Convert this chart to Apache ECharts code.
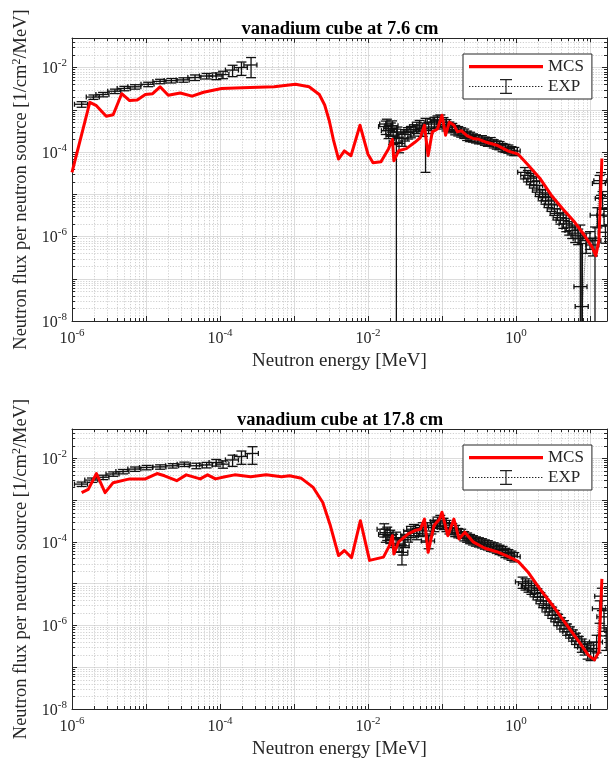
<!DOCTYPE html>
<html>
<head>
<meta charset="utf-8">
<title>vanadium cube - neutron spectra</title>
<script src="https://cdn.jsdelivr.net/npm/echarts@6/dist/echarts.min.js"></script>
<style>
  * { margin: 0; padding: 0; }
  body { background: #fff; }
  #chart { width: 613px; height: 760px; }
</style>
</head>
<body>
<div id="chart"></div>
<script>
// axis ranges (MeV / 1/cm2/MeV)
const xRange = [1e-6, 17];
const yRange = [1e-8, 0.05];

// ---------- vanadium cube at 7.6 cm ----------
const mcsE76 = [1.0e-6, 1.74e-6, 2.14e-6, 2.9e-6, 3.6e-6, 4.7e-6, 6.0e-6, 7.6e-6, 9.8e-6, 1.23e-5, 1.55e-5, 2.0e-5, 2.9e-5, 4.2e-5, 6.0e-5, 1.05e-4, 2.0e-4, 5.4e-4, 1.05e-3, 1.6e-3, 2.2e-3, 2.6e-3, 3.0e-3, 3.4e-3, 4.0e-3, 4.8e-3, 5.9e-3, 7.8e-3, 1.0e-2, 1.17e-2, 1.5e-2, 1.9e-2, 2.14e-2, 2.24e-2, 2.6e-2, 3.3e-2, 4.3e-2, 5.1e-2, 5.8e-2, 6.5e-2, 7.4e-2, 8.7e-2, 0.100, 0.112, 0.126, 0.145, 0.162, 0.182, 0.219, 0.263, 0.316, 0.40, 0.55, 0.79, 1.07, 1.45, 2.1, 3.0, 4.3, 6.2, 8.3, 10.7, 12.0, 13.2, 14.5];
const mcsF76 = [3.3e-5, 1.5e-3, 1.25e-3, 7.0e-4, 7.6e-4, 2.4e-3, 1.65e-3, 1.7e-3, 2.3e-3, 2.4e-3, 3.5e-3, 2.2e-3, 2.5e-3, 2.1e-3, 2.6e-3, 3.2e-3, 3.3e-3, 3.5e-3, 4.0e-3, 3.5e-3, 2.3e-3, 1.3e-3, 5.5e-4, 2.0e-4, 6.8e-5, 1.06e-4, 8.2e-5, 4.3e-4, 8.9e-5, 5.6e-5, 5.9e-5, 1.2e-4, 2.0e-4, 6.2e-5, 1.07e-4, 1.2e-4, 1.7e-4, 2.2e-4, 4.3e-4, 8.2e-5, 3.0e-4, 3.5e-4, 7.4e-4, 2.5e-4, 5.1e-4, 4.3e-4, 3.0e-4, 3.2e-4, 2.4e-4, 2.1e-4, 2.0e-4, 1.7e-4, 1.45e-4, 1.05e-4, 8.9e-5, 5.0e-5, 2.4e-5, 9.5e-6, 4.5e-6, 2.2e-6, 1.1e-6, 5.6e-7, 3.5e-7, 8.0e-7, 7.0e-5];

const expLowE76 = [1.35e-6, 1.95e-6, 2.63e-6, 3.8e-6, 5.1e-6, 7.1e-6, 1.07e-5, 1.55e-5, 2.2e-5, 3.2e-5, 4.6e-5, 6.6e-5, 8.9e-5, 1.1e-4, 1.48e-4, 1.95e-4, 2.63e-4];
const expLowF76 = [1.35e-3, 2.0e-3, 2.3e-3, 2.75e-3, 3.2e-3, 3.5e-3, 4.0e-3, 4.7e-3, 4.9e-3, 5.1e-3, 5.8e-3, 6.3e-3, 6.3e-3, 6.8e-3, 8.7e-3, 1.0e-2, 1.15e-2];
const expLowErr76 = [0.15, 0.12, 0.12, 0.12, 0.12, 0.12, 0.12, 0.12, 0.12, 0.12, 0.15, 0.15, 0.18, 0.2, 0.3, 0.35, 0.5];

const expHighE76 = [0.0174, 0.018, 0.019, 0.0204, 0.0212, 0.0219, 0.0242, 0.025, 0.0263, 0.0288, 0.0316, 0.0347, 0.038, 0.0417, 0.0457, 0.050, 0.055, 0.060, 0.066, 0.072, 0.079, 0.087, 0.095, 0.105, 0.115, 0.126, 0.138, 0.151, 0.166, 0.182, 0.20, 0.219, 0.24, 0.263, 0.288, 0.316, 0.347, 0.38, 0.417, 0.457, 0.50, 0.55, 0.60, 0.66, 0.72, 0.79, 0.87, 0.95];
const expHighF76 = [4.0e-4, 4.6e-4, 3.2e-4, 3.6e-4, 4.2e-4, 2.5e-4, 1.7e-4, 3.0e-4, 1.6e-4, 2.1e-4, 2.6e-4, 2.9e-4, 3.1e-4, 3.4e-4, 3.9e-4, 4.3e-4, 3.6e-4, 3.3e-4, 3.9e-4, 4.6e-4, 5.1e-4, 5.5e-4, 5.8e-4, 5.0e-4, 4.5e-4, 4.1e-4, 3.8e-4, 3.4e-4, 3.2e-4, 3.0e-4, 2.8e-4, 2.5e-4, 2.35e-4, 2.2e-4, 2.1e-4, 2.0e-4, 2.0e-4, 1.85e-4, 1.75e-4, 1.8e-4, 1.6e-4, 1.5e-4, 1.45e-4, 1.3e-4, 1.25e-4, 1.2e-4, 1.1e-4, 1.05e-4];
const expHighErr76 = [0.35, 0.3, 0.35, 0.35, 0.3, 0.4, 1.05, 0.3, 0.4, 0.35, 0.3, 0.3, 0.3, 0.3, 0.3, 0.3, 0.35, 0.9, 0.3, 0.3, 0.3, 0.3, 0.3, 0.3, 0.3, 0.25, 0.25, 0.25, 0.25, 0.25, 0.25, 0.25, 0.25, 0.22, 0.22, 0.22, 0.22, 0.22, 0.22, 0.22, 0.22, 0.22, 0.22, 0.22, 0.22, 0.22, 0.22, 0.22];

const expTailE76 = [1.32, 1.45, 1.58, 1.74, 1.91, 2.09, 2.29, 2.51, 2.75, 3.02, 3.31, 3.63, 3.98, 4.37, 4.79, 5.25, 5.75, 6.31, 6.92, 7.41, 7.6, 7.9, 8.9, 10.0, 11.0, 11.7, 12.6, 13.5, 14.1, 14.8, 15.5, 16.2];
const expTailF76 = [3.3e-5, 2.8e-5, 2.4e-5, 2.0e-5, 1.6e-5, 1.26e-5, 1.0e-5, 8.3e-6, 6.9e-6, 5.6e-6, 4.5e-6, 3.5e-6, 2.8e-6, 2.4e-6, 2.0e-6, 1.66e-6, 1.38e-6, 1.2e-6, 1.07e-6, 8.9e-7, 6.5e-8, 2.2e-8, 8.0e-7, 9.0e-7, 6.3e-7, 8.0e-7, 3.2e-6, 1.8e-5, 2.1e-5, 8.0e-6, 3.2e-6, 1.26e-6];
const expTailErr76 = [0.3, 0.3, 0.3, 0.3, 0.3, 0.3, 0.3, 0.3, 0.3, 0.3, 0.3, 0.3, 0.3, 0.35, 0.35, 0.35, 0.35, 0.4, 0.4, 1.1, 14, 30, 0.5, 0.45, 0.45, 1.1, 0.5, 0.55, 0.55, 0.45, 0.45, 0.45];

// ---------- vanadium cube at 17.8 cm ----------
const mcsE178 = [1.35e-6, 1.66e-6, 2.14e-6, 2.8e-6, 3.6e-6, 6.0e-6, 9.8e-6, 1.41e-5, 1.78e-5, 2.6e-5, 3.5e-5, 5.4e-5, 6.8e-5, 8.7e-5, 1.17e-4, 1.58e-4, 2.6e-4, 4.2e-4, 6.8e-4, 8.7e-4, 1.26e-3, 1.82e-3, 2.45e-3, 3.1e-3, 4.0e-3, 4.8e-3, 6.0e-3, 7.9e-3, 1.05e-2, 1.62e-2, 1.95e-2, 2.14e-2, 2.24e-2, 2.6e-2, 3.5e-2, 4.3e-2, 5.1e-2, 5.8e-2, 6.5e-2, 7.8e-2, 9.3e-2, 0.100, 0.120, 0.145, 0.170, 0.204, 0.263, 0.38, 0.55, 0.79, 1.07, 1.45, 2.09, 3.39, 4.9, 7.1, 9.5, 11.5, 13.2, 14.5];
const mcsF178 = [1.5e-3, 1.8e-3, 4.3e-3, 1.5e-3, 2.6e-3, 3.2e-3, 3.2e-3, 4.3e-3, 3.8e-3, 2.9e-3, 4.0e-3, 3.2e-3, 4.0e-3, 3.2e-3, 3.6e-3, 4.0e-3, 3.6e-3, 4.0e-3, 3.6e-3, 3.8e-3, 3.3e-3, 2.0e-3, 8.7e-4, 2.45e-4, 4.7e-5, 6.2e-5, 4.2e-5, 3.2e-4, 3.6e-5, 4.3e-5, 8.1e-5, 1.4e-4, 5.1e-5, 1.0e-4, 1.55e-4, 1.86e-4, 2.0e-4, 3.5e-4, 5.6e-5, 2.45e-4, 3.5e-4, 5.1e-4, 1.4e-4, 3.5e-4, 1.17e-4, 1.7e-4, 1.0e-4, 7.0e-5, 5.8e-5, 4.4e-5, 3.4e-5, 1.9e-5, 7.6e-6, 2.5e-6, 1.0e-6, 4.1e-7, 1.95e-7, 1.5e-7, 2.3e-7, 1.3e-5];

const expLowE178 = [1.35e-6, 1.86e-6, 2.63e-6, 3.6e-6, 4.9e-6, 7.1e-6, 1.02e-5, 1.55e-5, 2.3e-5, 3.3e-5, 4.8e-5, 6.6e-5, 8.9e-5, 1.1e-4, 1.48e-4, 1.95e-4, 2.75e-4];
const expLowF178 = [2.4e-3, 3.0e-3, 3.5e-3, 4.2e-3, 4.8e-3, 5.5e-3, 6.0e-3, 6.2e-3, 6.6e-3, 7.2e-3, 6.6e-3, 6.9e-3, 7.9e-3, 7.2e-3, 9.1e-3, 1.1e-2, 1.3e-2];
const expLowErr178 = [0.12, 0.12, 0.12, 0.12, 0.12, 0.12, 0.12, 0.12, 0.12, 0.12, 0.15, 0.15, 0.18, 0.2, 0.3, 0.35, 0.45];

const expHighE178 = [0.0166, 0.0174, 0.0182, 0.020, 0.0219, 0.024, 0.0263, 0.0288, 0.030, 0.0316, 0.0347, 0.038, 0.0417, 0.0457, 0.050, 0.055, 0.060, 0.066, 0.072, 0.079, 0.087, 0.095, 0.105, 0.115, 0.126, 0.138, 0.151, 0.166, 0.182, 0.20, 0.219, 0.24, 0.263, 0.288, 0.316, 0.347, 0.38, 0.417, 0.457, 0.50, 0.55, 0.60, 0.66, 0.72, 0.79, 0.87, 0.95];
const expHighF178 = [2.0e-4, 1.5e-4, 1.66e-4, 1.4e-4, 1.12e-4, 1.26e-4, 8.9e-5, 5.6e-5, 8.0e-5, 1.12e-4, 1.4e-4, 1.8e-4, 2.0e-4, 1.6e-4, 1.9e-4, 2.2e-4, 1.4e-4, 1.05e-4, 2.2e-4, 2.5e-4, 3.0e-4, 3.3e-4, 2.8e-4, 2.5e-4, 2.2e-4, 2.1e-4, 1.9e-4, 1.66e-4, 1.6e-4, 1.4e-4, 1.3e-4, 1.2e-4, 1.12e-4, 1.05e-4, 1.0e-4, 9.5e-5, 8.9e-5, 8.5e-5, 7.9e-5, 7.6e-5, 7.1e-5, 6.6e-5, 6.2e-5, 5.6e-5, 5.2e-5, 4.8e-5, 4.4e-5];
const expHighErr178 = [0.35, 0.35, 0.35, 0.35, 0.35, 0.35, 0.35, 0.5, 0.4, 0.35, 0.3, 0.3, 0.3, 0.3, 0.3, 0.3, 0.3, 0.35, 0.3, 0.3, 0.3, 0.3, 0.3, 0.3, 0.3, 0.3, 0.3, 0.25, 0.25, 0.25, 0.25, 0.25, 0.25, 0.25, 0.25, 0.25, 0.25, 0.25, 0.25, 0.25, 0.25, 0.25, 0.25, 0.25, 0.25, 0.25, 0.25];

const expTailE178 = [1.23, 1.35, 1.48, 1.62, 1.78, 1.95, 2.14, 2.34, 2.57, 2.82, 3.09, 3.39, 3.72, 4.07, 4.47, 4.9, 5.37, 5.89, 6.46, 7.08, 7.76, 8.5, 9.3, 10.2, 11.2, 12.3, 13.5, 14.5, 15.5, 16.6];
const expTailF178 = [1.1e-5, 1.0e-5, 8.9e-6, 7.9e-6, 6.9e-6, 5.8e-6, 4.7e-6, 3.8e-6, 3.0e-6, 2.5e-6, 2.1e-6, 1.74e-6, 1.41e-6, 1.17e-6, 1.0e-6, 8.3e-7, 7.1e-7, 6.0e-7, 5.0e-7, 4.2e-7, 3.5e-7, 3.0e-7, 2.6e-7, 2.4e-7, 2.8e-7, 4.0e-7, 2.5e-6, 5.0e-6, 1.6e-6, 5.6e-7];
const expTailErr178 = [0.3, 0.3, 0.3, 0.3, 0.3, 0.3, 0.3, 0.3, 0.3, 0.3, 0.3, 0.3, 0.3, 0.3, 0.3, 0.3, 0.3, 0.3, 0.3, 0.3, 0.35, 0.35, 0.4, 0.4, 0.4, 0.45, 0.55, 0.55, 0.55, 0.55];

// relative energy resolution of the measured bins (horizontal bars)
const expLowRes = 0.2;
const expHighRes = 0.2;

const titles = ['vanadium cube at 7.6 cm', 'vanadium cube at 17.8 cm'];

const AX = '#262626';
const SERIF = '"Liberation Serif", "DejaVu Serif", serif';

var myChart = echarts.init(document.getElementById('chart'), null, { renderer: 'canvas' });

// 10^n labels, only every second decade like the original
function powLabel(v) {
    const e = Math.log10(v);
    const r = Math.round(e);
    if (Math.abs(e - r) > 1e-6 || r % 2 !== 0) return '';
    return '{b|10}{s|' + r + '}';
}
const powRich = {
    b: { fontFamily: SERIF, fontSize: 16, color: AX, verticalAlign: 'bottom', lineHeight: 16 },
    s: { fontFamily: SERIF, fontSize: 11, color: AX, verticalAlign: 'bottom', padding: [0, 0, 8, 0] }
};

const grids = [
    { left: 72, top: 38, width: 535, height: 283 },
    { left: 72, top: 429, width: 535, height: 282 }
];

function xAx(gi, pos) {
    const main = pos === 'bottom';
    return {
        type: 'log', logBase: 10, gridIndex: gi, position: pos,
        min: xRange[0], max: xRange[1], splitNumber: 5,
        axisLine: { show: true, onZero: false, lineStyle: { color: AX, width: 1 } },
        axisTick: { show: true, inside: true, length: 5, lineStyle: { color: AX } },
        axisLabel: { show: main, formatter: powLabel, margin: 7, rich: powRich },
        splitLine: { show: main, lineStyle: { color: '#dcdcdc', width: 1 } },
        name: main ? 'Neutron energy [MeV]' : '',
        nameLocation: 'middle', nameGap: 31,
        nameTextStyle: { fontFamily: SERIF, fontSize: 19, color: AX }
    };
}
function yAx(gi, pos) {
    const main = pos === 'left';
    return {
        type: 'log', logBase: 10, gridIndex: gi, position: pos,
        min: yRange[0], max: yRange[1], splitNumber: 5,
        axisLine: { show: true, onZero: false, lineStyle: { color: AX, width: 1 } },
        axisTick: { show: true, inside: true, length: 5, lineStyle: { color: AX } },
        axisLabel: { show: main, formatter: powLabel, margin: 5, rich: powRich },
        splitLine: { show: main, lineStyle: { color: '#dcdcdc', width: 1 } },
        name: main ? '{n|Neutron flux per neutron source [1/cm}{s|2}{n|/MeV]}' : '',
        nameLocation: 'middle', nameGap: 37,
        nameTextStyle: {
            rich: {
                n: { fontFamily: SERIF, fontSize: 18.5, color: AX, verticalAlign: 'bottom', lineHeight: 18 },
                s: { fontFamily: SERIF, fontSize: 12, color: AX, verticalAlign: 'bottom', padding: [0, 0, 8, 0] }
            }
        }
    };
}

// minor grid (2..9 of each decade) with small inside ticks
const minorX = [];
for (let d = -6; d <= 1; d++) for (let m = 2; m <= 9; m++) { const v = m * Math.pow(10, d); if (v < xRange[1]) minorX.push([v, 1e-4]); }
const minorY = [];
for (let d = -8; d <= -2; d++) for (let m = 2; m <= 9; m++) { const v = m * Math.pow(10, d); if (v < yRange[1]) minorY.push([1e-3, v]); }

const dotted = { stroke: '#c4c4c4', lineWidth: 0.8, lineDash: [1.2, 1.6] };
const tickSt = { stroke: AX, lineWidth: 1 };

function renderMinorX(params, api) {
    const cs = params.coordSys;
    const x = Math.round(api.coord([api.value(0), 1e-4])[0]) + 0.5;
    const b = cs.y + cs.height;
    return { type: 'group', silent: true, children: [
        { type: 'line', shape: { x1: x, y1: cs.y, x2: x, y2: b }, style: dotted },
        { type: 'line', shape: { x1: x, y1: b, x2: x, y2: b - 3 }, style: tickSt },
        { type: 'line', shape: { x1: x, y1: cs.y, x2: x, y2: cs.y + 3 }, style: tickSt }
    ] };
}
function renderMinorY(params, api) {
    const cs = params.coordSys;
    const y = Math.round(api.coord([1e-3, api.value(1)])[1]) + 0.5;
    const r = cs.x + cs.width;
    return { type: 'group', silent: true, children: [
        { type: 'line', shape: { x1: cs.x, y1: y, x2: r, y2: y }, style: dotted },
        { type: 'line', shape: { x1: cs.x, y1: y, x2: cs.x + 3, y2: y }, style: tickSt },
        { type: 'line', shape: { x1: r, y1: y, x2: r - 3, y2: y }, style: tickSt }
    ] };
}

// errorbar(E, F, err, 'both') : symmetric errors, lower bound <= 0 runs to the axis
function renderErrorBar(params, api) {
    const cs = params.coordSys;
    const e = api.value(0), f = api.value(1), r = api.value(2), xr = api.value(3);
    const c = api.coord([e, f]);
    const yTop = api.coord([e, f * (1 + r)])[1];
    const lo = f * (1 - r);
    const bottom = cs.y + cs.height;
    const hasLo = lo > yRange[0];
    const yBot = hasLo ? api.coord([e, lo])[1] : bottom + 2;
    const xL = api.coord([e * (1 - xr), f])[0];
    const xR = api.coord([e * (1 + xr), f])[0];
    const st = { stroke: '#111', lineWidth: 1.3, fill: null };
    const cap = 5, hcap = 2.5;
    const seg = (x1, y1, x2, y2) => ({ type: 'line', shape: { x1, y1, x2, y2 }, style: st });
    const kids = [
        seg(c[0], yTop, c[0], yBot),
        seg(c[0] - cap, yTop, c[0] + cap, yTop),
        seg(xL, c[1], xR, c[1]),
        seg(xL, c[1] - hcap, xL, c[1] + hcap),
        seg(xR, c[1] - hcap, xR, c[1] + hcap)
    ];
    if (hasLo) kids.push(seg(c[0] - cap, yBot, c[0] + cap, yBot));
    return { type: 'group', children: kids };
}

function expSet(E, F, err, res) {
    return { E: E, F: F, err: err, res: res };
}

function panelSeries(gi, mcsE, mcsF, sets) {
    const xi = gi * 2, yi = gi * 2;
    const out = [
        { type: 'custom', name: 'minorX' + gi, xAxisIndex: xi, yAxisIndex: yi, data: minorX, renderItem: renderMinorX, silent: true, z: 1, encode: { x: 0, y: 1 } },
        { type: 'custom', name: 'minorY' + gi, xAxisIndex: xi, yAxisIndex: yi, data: minorY, renderItem: renderMinorY, silent: true, z: 1, encode: { x: 0, y: 1 } }
    ];
    sets.forEach(s => {
        out.push({
            type: 'line', name: 'EXP', xAxisIndex: xi, yAxisIndex: yi,
            data: s.E.map((e, i) => [e, s.F[i]]),
            symbol: 'none', silent: true, z: 2,
            lineStyle: { type: 'dotted', width: 1, color: '#555' }
        });
        out.push({
            type: 'custom', name: 'EXP', xAxisIndex: xi, yAxisIndex: yi,
            data: s.E.map((e, i) => [e, s.F[i], s.err[i], s.res]),
            renderItem: renderErrorBar, clip: true, z: 3, silent: true,
            encode: { x: 0, y: 1 }
        });
    });
    out.push({
        type: 'line', name: 'MCS', xAxisIndex: xi, yAxisIndex: yi,
        data: mcsE.map((e, i) => [e, mcsF[i]]),
        symbol: 'none', z: 5, clip: true, silent: true,
        lineStyle: { color: '#ff0000', width: 3, join: 'round' }
    });
    return out;
}

// legend icons (74 x 16 box)
const MCS_ICON = 'path://M0,0h0.01v0.01h-0.01zM73.99,15.99h0.01v0.01h-0.01zM0,6.5h74v3.2h-74z';
let expPath = 'path://M0,0h0.01v0.01h-0.01zM73.99,15.99h0.01v0.01h-0.01z';
for (let x = 0; x < 74; x += 3) expPath += 'M' + x + ',7.6h1.4v0.8h-1.4z';
expPath += 'M31,0.5h12v1.2h-12zM36.4,0.5h1.2v15h-1.2zM31,14.3h12v1.2h-12z';

function legendAt(top) {
    return {
        left: 463, top: top, orient: 'vertical',
        itemWidth: 74, itemHeight: 16, itemGap: 3,
        padding: [4, 8, 4, 6],
        backgroundColor: '#fff', borderColor: AX, borderWidth: 1, borderRadius: 0,
        selectedMode: false,
        textStyle: { fontFamily: SERIF, fontSize: 17, color: AX },
        data: [
            { name: 'MCS', icon: MCS_ICON, itemStyle: { color: '#ff0000', borderWidth: 0 } },
            { name: 'EXP', icon: expPath, itemStyle: { color: '#222', borderWidth: 0 } }
        ]
    };
}

const titleStyle = { fontFamily: SERIF, fontWeight: 'bold', fontSize: 18.5, color: '#000' };

const option = {
    animation: false,
    backgroundColor: '#fff',
    title: [
        { text: titles[0], left: 340, top: 20, textAlign: 'center', padding: 0, textStyle: titleStyle },
        { text: titles[1], left: 340, top: 411, textAlign: 'center', padding: 0, textStyle: titleStyle }
    ],
    legend: [legendAt(54), legendAt(445)],
    grid: grids.map(g => Object.assign({ containLabel: false }, g)),
    xAxis: [xAx(0, 'bottom'), xAx(0, 'top'), xAx(1, 'bottom'), xAx(1, 'top')],
    yAxis: [yAx(0, 'left'), yAx(0, 'right'), yAx(1, 'left'), yAx(1, 'right')],
    series: [].concat(
        panelSeries(0, mcsE76, mcsF76, [
            expSet(expLowE76, expLowF76, expLowErr76, expLowRes),
            expSet(expHighE76, expHighF76, expHighErr76, expHighRes),
            expSet(expTailE76, expTailF76, expTailErr76, expHighRes)
        ]),
        panelSeries(1, mcsE178, mcsF178, [
            expSet(expLowE178, expLowF178, expLowErr178, expLowRes),
            expSet(expHighE178, expHighF178, expHighErr178, expHighRes),
            expSet(expTailE178, expTailF178, expTailErr178, expHighRes)
        ])
    )
};

myChart.setOption(option);
window.addEventListener('resize', () => myChart.resize());
</script>
</body>
</html>
